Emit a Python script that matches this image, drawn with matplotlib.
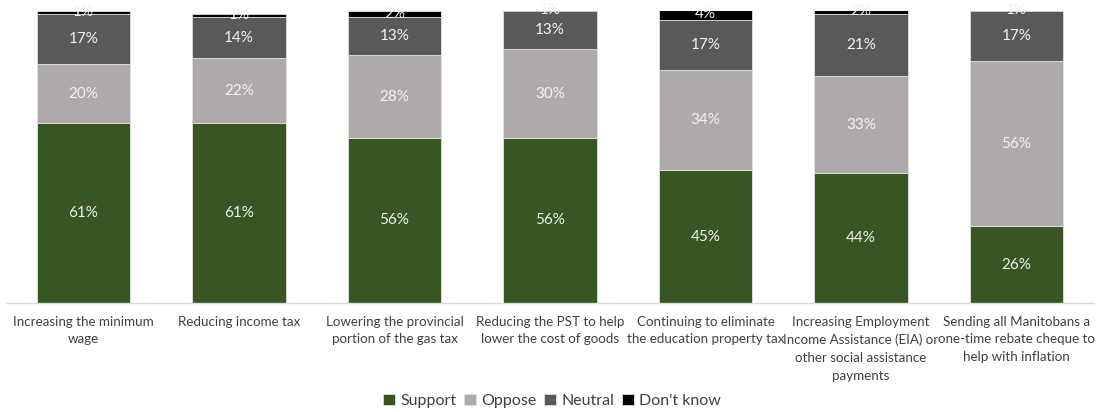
import matplotlib
matplotlib.use("Agg")
import matplotlib.pyplot as plt
import numpy as np

categories = [
    "Increasing the minimum\nwage",
    "Reducing income tax",
    "Lowering the provincial\nportion of the gas tax",
    "Reducing the PST to help\nlower the cost of goods",
    "Continuing to eliminate\nthe education property tax",
    "Increasing Employment\nIncome Assistance (EIA) or\nother social assistance\npayments",
    "Sending all Manitobans a\none-time rebate cheque to\nhelp with inflation",
]
support = [61, 61, 56, 56, 45, 44, 26]
oppose = [20, 22, 28, 30, 34, 33, 56]
neutral = [17, 14, 13, 13, 17, 21, 17]
dont_know = [1, 1, 2, 1, 4, 2, 1]

series = [("Support", support, "#375623"),
          ("Oppose", oppose, "#AEAAAA"),
          ("Neutral", neutral, "#595959"),
          ("Don't know", dont_know, "#000000")]

plt.rcParams['font.family'] = ['Lato', 'DejaVu Sans']

fig = plt.figure(figsize=(10.97, 4.12), dpi=100)
ax = fig.add_axes([5.75/1097, 109/412, (1094.25-5.75)/1097, (303-11)/412])

x = np.arange(len(categories))
bottom = np.zeros(len(categories))
for name, vals, col in series:
    vals = np.array(vals, dtype=float)
    ax.bar(x, vals, 0.6, bottom=bottom, color=col, label=name,
           edgecolor="#E0E0E0", linewidth=0.6)
    for xi, b, v in zip(x, bottom, vals):
        ax.text(xi, b + v/2, f"{int(v)}%", ha="center", va="center",
                color="#F2F2F2", fontsize=11, clip_on=False)
    bottom += vals

ax.set_xlim(-0.5, len(categories) - 0.5)
ax.set_ylim(0, 99)
ax.set_yticks([])
ax.set_xticks(x)
ax.set_xticklabels(categories, fontsize=9.6, color="#404040", linespacing=1.58, va="top")
ax.tick_params(axis="x", length=0, pad=9)
for s in ["top", "right", "left"]:
    ax.spines[s].set_visible(False)
ax.spines["bottom"].set_color("#D9D9D9")
ax.spines["bottom"].set_linewidth(1)

fig.legend(loc="center", bbox_to_anchor=(552/1097, 1 - 401/412), ncol=4, frameon=False,
           fontsize=11.5, handlelength=0.75, handleheight=0.75, handletextpad=0.3,
           columnspacing=0.5, labelcolor="#404040")

fig.savefig("out.png", dpi=100)
